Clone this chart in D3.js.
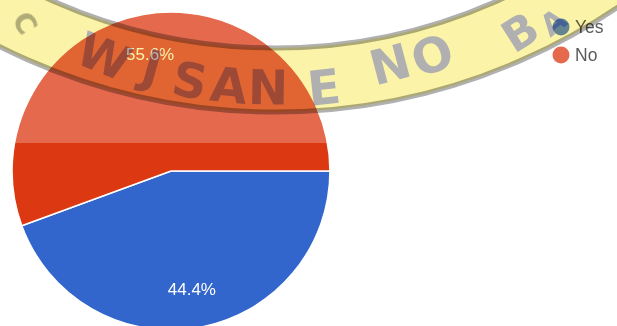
<!DOCTYPE html>
<html><head><meta charset="utf-8">
<script src="https://cdn.jsdelivr.net/npm/d3@7"></script>
<style>html,body{margin:0;padding:0;background:#fff;overflow:hidden}</style>
</head><body>
<svg id="chart" width="617" height="326"></svg>
<script>
// ---- data ----
const categories = ["Yes", "No"];
const values = [44.4, 55.6];
const colors = ["#3366cc", "#dc3912"];
const watermarkLetters = ["W", "J", "S", "A", "N", "E", "N", "O", "B", "A"];

// ---- layout ----
const W = 617, H = 326;
const cx = 171, cy = 171, r = 159;
const svg = d3.select("#chart");

const pie = d3.pie().sort(null).value(d => d.value)
  .startAngle(Math.PI / 2).endAngle(Math.PI / 2 + 2 * Math.PI);
const data = categories.map((c, i) => ({ cat: c, value: values[i] }));
const arcs = pie(data);
const arc = d3.arc().innerRadius(0).outerRadius(r);
const labelArc = d3.arc().innerRadius(r * 0.75).outerRadius(r * 0.75);
const color = d3.scaleOrdinal().domain(categories).range(colors);

const g = svg.append("g").attr("transform", `translate(${cx},${cy})`);
g.selectAll("path.slice").data(arcs).enter().append("path")
  .attr("class", "slice")
  .attr("d", arc)
  .attr("fill", d => color(d.data.cat))
  .attr("stroke", "#ffffff").attr("stroke-width", 1.6);

g.selectAll("text.lbl").data(arcs).enter().append("text")
  .attr("class", "lbl")
  .attr("transform", d => `translate(${labelArc.centroid(d)})`)
  .attr("text-anchor", "middle").attr("dy", "0.36em")
  .attr("font-family", "Arial, 'Liberation Sans', sans-serif")
  .attr("font-size", 17).attr("fill", "#ffffff")
  .text(d => d.data.value.toFixed(1) + "%");

// legend
const legend = svg.append("g").attr("transform", "translate(561,27)");
const li = legend.selectAll("g").data(categories).enter().append("g")
  .attr("transform", (d, i) => `translate(0,${i * 28})`);
li.append("circle").attr("r", 8.5).attr("fill", d => color(d));
li.append("text").attr("x", 14).attr("dy", "0.36em")
  .attr("font-family", "Arial, 'Liberation Sans', sans-serif")
  .attr("font-size", 17.5).attr("fill", "#222")
  .text(d => d);

// ---- scanned watermark overlay ----
svg.append("rect").attr("x", 0).attr("y", 0).attr("width", W).attr("height", 143)
  .attr("fill", "#fff").attr("opacity", 0.25);

const wcx = 275, wcy = -500, wR = 580, wIn = 548, wOut = 612;
const letterPos = [[104, 56], [152, 67], [190, 80], [229, 85], [268, 87],
                   [324, 87], [390, 64], [432, 55], [520, 32], [553, 22]];
const letterSize = [48, 48, 48, 48, 48, 48, 48, 48, 44, 30];
const letters = watermarkLetters.map((ch, i) => {
  const [x, y] = letterPos[i];
  const phi = Math.asin((x - wcx) / wR);
  return { ch, x, y, size: letterSize[i], rot: -phi * 180 / Math.PI * 1.3 };
});

const defs = svg.append("defs");
const mask = defs.append("mask").attr("id", "bandMask")
  .attr("maskUnits", "userSpaceOnUse").attr("x", 0).attr("y", 0).attr("width", W).attr("height", H);
mask.append("rect").attr("width", W).attr("height", H).attr("fill", "#fff");
const drawLetters = (sel, fill) => sel.selectAll("text").data(letters).enter().append("text")
  .attr("transform", d => `translate(${d.x},${d.y}) rotate(${d.rot})`)
  .attr("text-anchor", "middle").attr("dy", "0.36em")
  .attr("font-family", "'DejaVu Sans', 'Liberation Sans', sans-serif").attr("font-weight", "bold")
  .attr("font-size", d => d.size).attr("fill", fill).text(d => d.ch);
drawLetters(mask, "#000");

const band = d3.arc().innerRadius(wIn).outerRadius(wOut)
  .startAngle(Math.PI - 0.8).endAngle(Math.PI + 0.8);
svg.append("g").attr("mask", "url(#bandMask)")
  .style("mix-blend-mode", "multiply")
  .append("path").attr("d", band())
  .attr("transform", `translate(${wcx},${wcy})`)
  .attr("fill", "#faf3a8");
svg.append("path").attr("d", band())
  .attr("transform", `translate(${wcx},${wcy})`)
  .attr("fill", "none").attr("stroke", "#b0b0b0").attr("stroke-width", 5)
  .style("mix-blend-mode", "multiply");
const lg = svg.append("g").style("mix-blend-mode", "multiply");
drawLetters(lg, "#b0b0b0");
svg.append("text").attr("transform", "translate(25,23) rotate(60)")
  .attr("text-anchor", "middle").attr("dy", "0.36em")
  .attr("font-family", "'DejaVu Sans', 'Liberation Sans', sans-serif").attr("font-weight", "bold")
  .attr("font-size", 28).attr("fill", "#b4b4b4")
  .style("mix-blend-mode", "multiply").text("C");
</script>
</body></html>
